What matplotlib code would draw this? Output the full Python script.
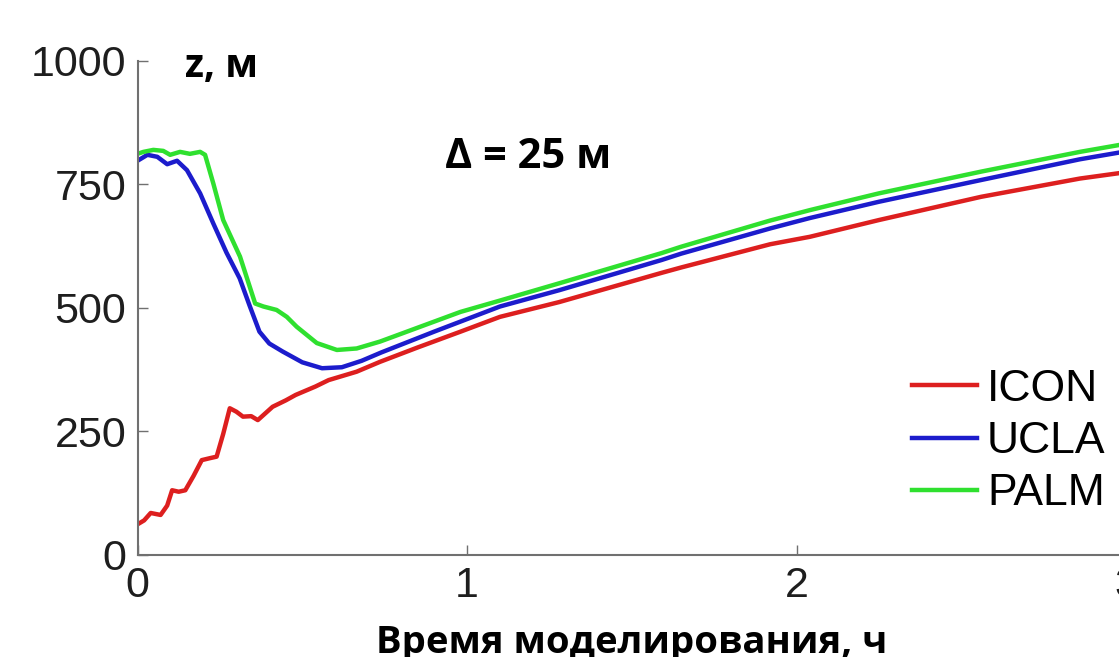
import numpy as np
import matplotlib
matplotlib.use('Agg')
import matplotlib.pyplot as plt

# --- data ---
icon_t = [0.0, 0.02, 0.04, 0.07, 0.09, 0.105, 0.125, 0.145, 0.17, 0.195, 0.22, 0.24,
          0.26, 0.28, 0.30, 0.32, 0.345, 0.365, 0.39, 0.41, 0.45, 0.48, 0.54, 0.58,
          0.665, 0.736, 0.85, 0.98, 1.1, 1.28, 1.59, 1.65, 1.92, 2.04, 2.25, 2.56,
          2.86, 2.98, 3.0]
icon_z = [62, 70, 85, 81, 100, 131, 128, 131, 160, 192, 196, 199,
          245, 297, 290, 280, 281, 273, 288, 300, 313, 324, 341, 354,
          371, 391, 420, 452, 482, 512, 571, 582, 629, 644, 678, 725,
          762, 773, 775]

ucla_t = [0.0, 0.03, 0.06, 0.09, 0.12, 0.15, 0.19, 0.23, 0.27, 0.31, 0.34, 0.37,
          0.40, 0.44, 0.50, 0.56, 0.62, 0.68, 0.74, 0.90, 1.1, 1.28, 1.59, 1.65,
          1.92, 2.04, 2.25, 2.56, 2.86, 3.0]
ucla_z = [798, 810, 806, 791, 798, 779, 732, 671, 612, 560, 505, 452,
          428, 412, 390, 378, 380, 393, 410, 452, 503, 536, 597, 610,
          661, 682, 715, 759, 801, 817]

palm_t = [0.0, 0.018, 0.048, 0.078, 0.099, 0.129, 0.159, 0.19, 0.205, 0.23, 0.26,
          0.311, 0.357, 0.382, 0.422, 0.453, 0.483, 0.544, 0.605, 0.665, 0.736,
          0.98, 1.1, 1.28, 1.59, 1.65, 1.92, 2.04, 2.25, 2.56, 2.86, 2.98, 3.0]
palm_z = [812, 816, 820, 818, 810, 816, 812, 816, 810, 752, 678,
          604, 509, 503, 496, 482, 462, 429, 415, 418, 432,
          492, 515, 550, 611, 624, 677, 698, 732, 776, 816, 830, 833]

x_ticks = [0, 1, 2, 3]
y_ticks = [0, 250, 500, 750, 1000]

fig = plt.figure(figsize=(11.19, 6.57), dpi=100)
ax = fig.add_axes([0.1229, 0.1553, 0.8834, 0.7519])

ax.plot(icon_t, icon_z, color='#dd1f1f', lw=3.2, label='ICON')
ax.plot(ucla_t, ucla_z, color='#1c1ccc', lw=3.2, label='UCLA')
ax.plot(palm_t, palm_z, color='#2fe02f', lw=3.2, label='PALM')

ax.set_xlim(0, 3)
ax.set_ylim(0, 1000)
ax.set_xticks(x_ticks)
ax.set_yticks(y_ticks)
for side in ('top', 'right'):
    ax.spines[side].set_visible(False)
for side in ('left', 'bottom'):
    ax.spines[side].set_color('#707070')
    ax.spines[side].set_linewidth(1.5)
ax.tick_params(direction='in', length=7, width=1, color='#707070',
               labelsize=31, labelcolor='#1e1e1e', pad=8)
for lab in ax.get_xticklabels() + ax.get_yticklabels():
    lab.set_fontfamily('Liberation Sans')

bold = ['Open Sans', 'DejaVu Sans']
fig.text(185 / 1119, 1 - 67 / 657, 'z, м', family=bold, fontweight='bold',
         fontsize=28, ha='left', va='center')
fig.text(445 / 1119, 1 - 157 / 657, 'Δ = 25 м', family=bold, fontweight='bold',
         fontsize=30, ha='left', va='center')
fig.text(632 / 1119, 1 - 643 / 657, 'Время моделирования, ч', family=bold,
         fontweight='bold', fontsize=27.5, ha='center', va='center')

fig.legend(loc='upper left', bbox_to_anchor=(912 / 1119, 1 - 369 / 657),
           frameon=False, borderpad=0, borderaxespad=0, handlelength=1.46,
           handletextpad=0.23, labelspacing=0.25,
           prop={'family': 'Liberation Sans', 'size': 32})

fig.savefig('out.png', dpi=100)
